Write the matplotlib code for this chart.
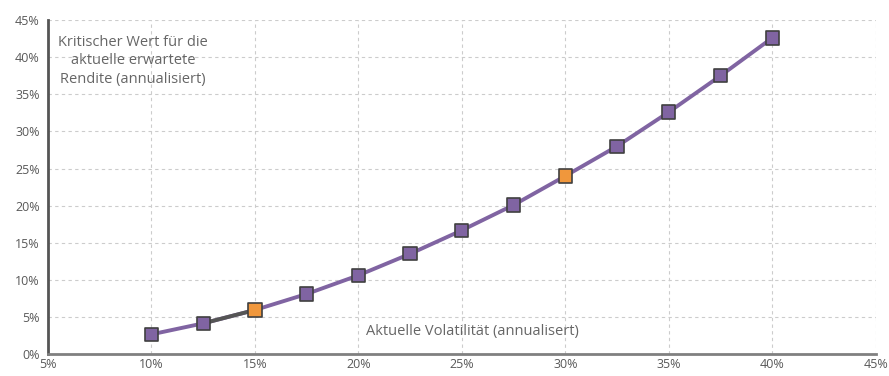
import matplotlib
matplotlib.use('Agg')
import matplotlib.pyplot as plt
from matplotlib.ticker import FuncFormatter

# volatility (x) and critical expected return (y), both in percent
vola = [10, 12.5, 15, 17.5, 20, 22.5, 25, 27.5, 30, 32.5, 35, 37.5, 40]
rendite = [2.65, 4.13, 5.93, 8.09, 10.6, 13.5, 16.67, 20.08, 23.99, 28.0, 32.6, 37.5, 42.6]
highlight = [15, 30]  # marked points

plt.rcParams['font.family'] = ['Open Sans', 'DejaVu Sans']

fig = plt.figure(figsize=(8.89, 3.76), dpi=100)
ax = fig.add_axes([0.054, 0.0585, 0.931, 0.888])

purple = '#8064a2'
orange = '#f0973c'
edge = '#404040'

ax.plot(vola, rendite, color=purple, lw=2.8, zorder=3)
# darker segment between 12.5% and 15%
i0 = vola.index(12.5)
ax.plot(vola[i0:i0 + 2], rendite[i0:i0 + 2], color='#555555', lw=2.8, zorder=4)

cols = [orange if v in highlight else purple for v in vola]
ax.scatter(vola, rendite, marker='s', s=92, c=cols, edgecolors=edge,
           linewidths=1.2, zorder=5)

ax.set_xlim(5, 45)
ax.set_ylim(0, 45)
ax.set_xticks(range(5, 50, 5))
ax.set_yticks(range(0, 50, 5))
pct = FuncFormatter(lambda v, p: f'{v:.0f}%')
ax.xaxis.set_major_formatter(pct)
ax.yaxis.set_major_formatter(pct)
ax.tick_params(length=0, labelsize=9, colors='#595959')
ax.tick_params(axis='x', pad=3)
ax.tick_params(axis='y', pad=6)

ax.grid(True, ls=(0, (3, 3)), color='#cccccc', lw=0.8)
ax.set_axisbelow(True)
for s in ['top', 'right']:
    ax.spines[s].set_visible(False)
ax.spines['left'].set_color('#555555')
ax.spines['left'].set_linewidth(2)
ax.spines['bottom'].set_color('#808080')
ax.spines['bottom'].set_linewidth(2)

ax.text(9.1, 39.5, 'Kritischer Wert für die\naktuelle erwartete\nRendite (annualisiert)',
        ha='center', va='center', fontsize=10.5, color='#666666', linespacing=1.3)
ax.text(25.5, 3.1, 'Aktuelle Volatilität (annualisert)', ha='center', va='center',
        fontsize=10.5, color='#666666')

fig.savefig('out.png', dpi=100)
